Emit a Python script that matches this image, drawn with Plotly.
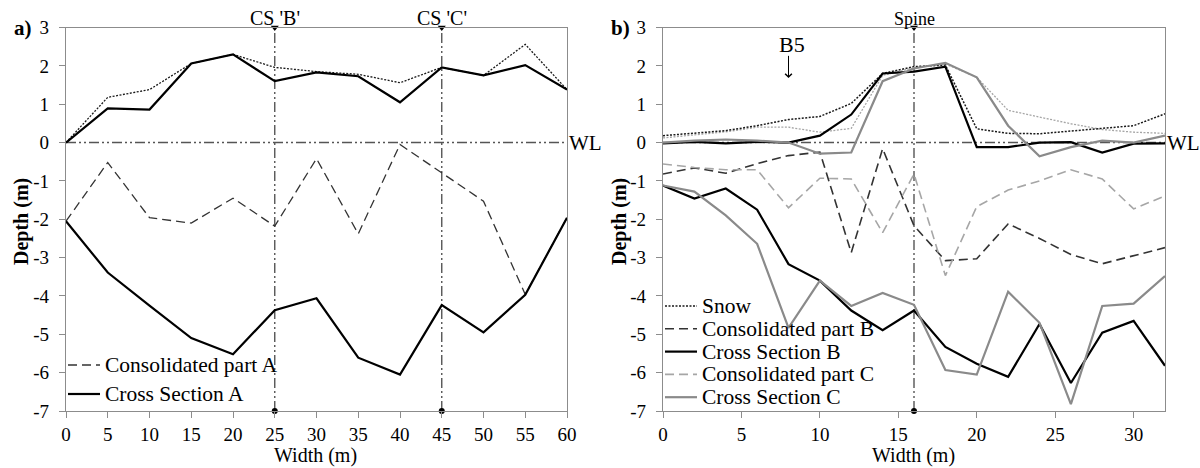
import plotly.graph_objects as go

# ---------------- data ----------------
width_a = [0, 5, 10, 15, 20, 25, 30, 35, 40, 45, 50, 55, 60]
snow_a = [0, 1.18, 1.38, 2.06, 2.3, 1.96, 1.85, 1.78, 1.56, 1.96, 1.75, 2.56, 1.38]
top_a = [0, 0.89, 0.86, 2.06, 2.3, 1.6, 1.83, 1.73, 1.05, 1.96, 1.75, 2.02, 1.38]
consol_a = [-2.05, -0.52, -1.96, -2.1, -1.45, -2.18, -0.42, -2.38, -0.05, -0.78, -1.53, -3.96, -1.96]
bottom_a = [-2.05, -3.39, -4.25, -5.1, -5.52, -4.37, -4.06, -5.61, -6.05, -4.24, -4.95, -3.97, -1.96]

width_b = [0, 2, 4, 6, 8, 10, 12, 14, 16, 18, 20, 22, 24, 26, 28, 30, 32]
snow_b = [0.18, 0.24, 0.31, 0.44, 0.6, 0.68, 1.02, 1.8, 1.98, 2.02, 0.36, 0.24, 0.23, 0.3, 0.36, 0.44, 0.75]
snow_c = [0.12, 0.2, 0.28, 0.4, 0.4, 0.27, 0.37, 1.75, 1.95, 2.05, 1.7, 0.84, 0.66, 0.49, 0.34, 0.27, 0.24]
top_b = [-0.02, 0.02, -0.02, 0.02, 0.0, 0.18, 0.73, 1.8, 1.85, 1.98, -0.12, -0.12, 0.0, 0.01, -0.26, -0.03, -0.02]
top_c = [0.0, 0.05, 0.08, 0.05, 0.0, -0.29, -0.26, 1.6, 1.93, 2.08, 1.7, 0.44, -0.36, -0.12, 0.05, 0.0, 0.18]
consol_b = [-0.82, -0.66, -0.8, -0.55, -0.34, -0.25, -2.87, -0.16, -2.17, -3.08, -3.03, -2.12, -2.5, -2.92, -3.16, -2.95, -2.74]
consol_c = [-0.56, -0.65, -0.71, -0.71, -1.7, -0.93, -0.95, -2.35, -0.82, -3.47, -1.67, -1.24, -1.0, -0.71, -0.95, -1.73, -1.39]
bottom_b = [-1.12, -1.46, -1.2, -1.75, -3.17, -3.6, -4.38, -4.89, -4.38, -5.33, -5.77, -6.11, -4.73, -6.27, -4.96, -4.65, -5.82]
bottom_c = [-1.12, -1.28, -1.9, -2.64, -4.83, -3.6, -4.26, -3.92, -4.23, -5.93, -6.05, -3.89, -4.7, -6.82, -4.26, -4.2, -3.48]

sections_a = [25, 45]
section_labels_a = ["CS 'B'", "CS 'C'"]
spine_b = [16]
spine_labels_b = ["Spine"]
legend_a_labels = ["Consolidated part A", "Cross Section A"]
legend_b_labels = ["Snow", "Consolidated part B", "Cross Section B", "Consolidated part C", "Cross Section C"]
y_ticks = [-7, -6, -5, -4, -3, -2, -1, 0, 1, 2, 3]
x_ticks_a = [0, 5, 10, 15, 20, 25, 30, 35, 40, 45, 50, 55, 60]
x_ticks_b = [0, 5, 10, 15, 20, 25, 30]
y_range = [-7, 3]
x_range_a = [0, 60]
x_range_b = [0, 32]

FONT = "Liberation Serif"
DARK = "#1a1a1a"
GREY = "#8a8a8a"
LIGHT = "#a6a6a6"
REFC = "#555555"
DOT = "2px,1.5px"
DASH = "9px,5px"
DDOT = "10px,3px,2px,3px,2px,3px"
W, H = 1200, 468


def joined(xs, up, low):
    return xs + [None] + xs, up + [None] + low


fig = go.Figure()

# ---------- panel a ----------
style_con_a = dict(color="#333333", width=1.3, dash=DASH)
style_cs_a = dict(color="#000000", width=2.2)
fig.add_trace(go.Scatter(x=width_a, y=snow_a, mode="lines", xaxis="x", yaxis="y",
                         name="Snow", line=dict(color=DARK, width=1.3, dash=DOT), showlegend=False))
fig.add_trace(go.Scatter(x=width_a, y=consol_a, mode="lines", xaxis="x", yaxis="y",
                         name=legend_a_labels[0], showlegend=False, line=style_con_a))
xa, ya = joined(width_a, top_a, bottom_a)
fig.add_trace(go.Scatter(x=xa, y=ya, mode="lines", xaxis="x", yaxis="y",
                         name=legend_a_labels[1], showlegend=False, line=style_cs_a))

# ---------- panel b ----------
style_snow_b = dict(color=DARK, width=1.5, dash=DOT)
style_con_b = dict(color="#333333", width=1.6, dash=DASH)
style_cs_b = dict(color="#000000", width=2.2)
style_con_c = dict(color=LIGHT, width=1.6, dash=DASH)
style_cs_c = dict(color=GREY, width=2.2)

fig.add_trace(go.Scatter(x=width_b, y=snow_c, mode="lines", xaxis="x2", yaxis="y2",
                         name="Snow C", line=dict(color=LIGHT, width=1.3, dash=DOT), showlegend=False))
fig.add_trace(go.Scatter(x=width_b, y=snow_b, mode="lines", xaxis="x2", yaxis="y2",
                         name=legend_b_labels[0], showlegend=False, line=style_snow_b))
fig.add_trace(go.Scatter(x=width_b, y=consol_b, mode="lines", xaxis="x2", yaxis="y2",
                         name=legend_b_labels[1], showlegend=False, line=style_con_b))
xb, yb = joined(width_b, top_b, bottom_b)
fig.add_trace(go.Scatter(x=xb, y=yb, mode="lines", xaxis="x2", yaxis="y2",
                         name=legend_b_labels[2], showlegend=False, line=style_cs_b))
fig.add_trace(go.Scatter(x=width_b, y=consol_c, mode="lines", xaxis="x2", yaxis="y2",
                         name=legend_b_labels[3], showlegend=False, line=style_con_c))
xc, yc = joined(width_b, top_c, bottom_c)
fig.add_trace(go.Scatter(x=xc, y=yc, mode="lines", xaxis="x2", yaxis="y2",
                         name=legend_b_labels[4], showlegend=False, line=style_cs_c))

# reference markers (top/bottom of vertical lines)
for xs, xax, yax in [(sections_a, "x", "y"), (spine_b, "x2", "y2")]:
    fig.add_trace(go.Scatter(x=xs, y=[y_range[1]] * len(xs), mode="markers", xaxis=xax, yaxis=yax,
                             marker=dict(symbol="triangle-down", size=7, color="#000"),
                             cliponaxis=False, showlegend=False, hoverinfo="skip"))
    fig.add_trace(go.Scatter(x=xs, y=[y_range[0]] * len(xs), mode="markers", xaxis=xax, yaxis=yax,
                             marker=dict(symbol="circle", size=6, color="#000"),
                             cliponaxis=False, showlegend=False, hoverinfo="skip"))

shapes = []
annotations = []
# water level lines
for xr, yr, xmax in [("x", "y", x_range_a[1]), ("x2", "y2", x_range_b[1])]:
    shapes.append(dict(type="line", xref=xr, yref=yr, x0=0, x1=xmax, y0=0, y1=0,
                       line=dict(color=REFC, width=1.4, dash=DDOT), layer="below"))
    annotations.append(dict(xref=xr, yref=yr, x=xmax, y=0, text="WL", showarrow=False,
                            xanchor="left", yanchor="middle", xshift=0,
                            font=dict(size=21, family=FONT, color="#000")))
# vertical section lines
for xs, labs, xr, yr, fs in [(sections_a, section_labels_a, "x", "y", 20),
                             (spine_b, spine_labels_b, "x2", "y2", 18)]:
    for xv, lab in zip(xs, labs):
        shapes.append(dict(type="line", xref=xr, yref=yr, x0=xv, x1=xv, y0=y_range[0], y1=y_range[1],
                           line=dict(color=REFC, width=1.4, dash=DDOT), layer="below"))
        annotations.append(dict(xref=xr, yref=yr, x=xv, y=y_range[1], text=lab, showarrow=False,
                                yanchor="bottom", yshift=-3, font=dict(size=fs, family=FONT, color="#000")))

# B5 marker
annotations.append(dict(xref="x2", yref="y2", x=8.2, y=2.55, text="B5", showarrow=False,
                        yanchor="middle", font=dict(size=22, family=FONT, color="#000")))
annotations.append(dict(xref="x2", yref="y2", x=8, y=1.68, axref="x2", ayref="y2", ax=8, ay=2.3,
                        text="", showarrow=True, arrowhead=4, arrowsize=1.3, arrowwidth=1,
                        arrowcolor="#000"))


def add_legend(labels, styles, x0px, ytop, step):
    for i, (lab, st) in enumerate(zip(labels, styles)):
        yp = 1 - (ytop + i * step) / H
        shapes.append(dict(type="line", xref="paper", yref="paper", x0=x0px / W, x1=(x0px + 32) / W,
                           y0=yp, y1=yp,
                           line=dict(color=st["color"], width=st["width"], dash=st.get("dash", "solid"))))
        annotations.append(dict(xref="paper", yref="paper", x=(x0px + 35) / W, y=yp, text=lab,
                                showarrow=False, xanchor="left", yanchor="middle",
                                font=dict(size=21.5, family=FONT, color="#000")))


add_legend(legend_a_labels, [style_con_a, style_cs_a], 68, 365, 29)
add_legend(legend_b_labels, [style_snow_b, style_con_b, style_cs_b, style_con_c, style_cs_c], 665, 306, 22.8)

# panel labels and axis titles
annotations += [
    dict(xref="paper", yref="paper", x=12 / W, y=1 - 28 / H, text="<b>a)</b>", showarrow=False,
         xanchor="left", yanchor="middle", font=dict(size=21, family=FONT, color="#000")),
    dict(xref="paper", yref="paper", x=609 / W, y=1 - 28 / H, text="<b>b)</b>", showarrow=False,
         xanchor="left", yanchor="middle", font=dict(size=21, family=FONT, color="#000")),
    dict(xref="paper", yref="paper", x=21 / W, y=1 - 222 / H, text="<b>Depth (m)</b>",
         showarrow=False, textangle=-90, xanchor="center", yanchor="middle",
         font=dict(size=20, family=FONT, color="#000")),
    dict(xref="paper", yref="paper", x=619 / W, y=1 - 222 / H, text="<b>Depth (m)</b>",
         showarrow=False, textangle=-90, xanchor="center", yanchor="middle",
         font=dict(size=20, family=FONT, color="#000")),
    dict(xref="paper", yref="paper", x=316 / W, y=1 - 455 / H, text="Width (m)",
         showarrow=False, xanchor="center", yanchor="middle", font=dict(size=20, family=FONT, color="#000")),
    dict(xref="paper", yref="paper", x=913 / W, y=1 - 455 / H, text="Width (m)",
         showarrow=False, xanchor="center", yanchor="middle", font=dict(size=20, family=FONT, color="#000")),
]

ydom = [1 - 411 / H, 1 - 27.5 / H]
axis_common = dict(showline=True, mirror=True, linecolor="#8c8c8c", linewidth=1.2, showgrid=False,
                   zeroline=False, ticks="outside", ticklen=6, tickcolor="#8c8c8c", automargin=False,
                   tickfont=dict(size=19, family=FONT, color="#000"))

fig.update_layout(
    width=W, height=H, margin=dict(l=0, r=0, t=0, b=0, autoexpand=False),
    paper_bgcolor="white", plot_bgcolor="white", showlegend=False,
    font=dict(family=FONT, color="#000"),
    xaxis=dict(domain=[66 / W, 567 / W], range=x_range_a, tickvals=x_ticks_a,
               ticktext=[str(v) for v in x_ticks_a], anchor="y", **axis_common),
    yaxis=dict(domain=ydom, range=y_range, tickvals=y_ticks, ticktext=[str(v) for v in y_ticks],
               anchor="x", ticklabelstandoff=6, **axis_common),
    xaxis2=dict(domain=[663 / W, 1165 / W], range=x_range_b, tickvals=x_ticks_b,
                ticktext=[str(v) for v in x_ticks_b], anchor="y2", **axis_common),
    yaxis2=dict(domain=ydom, range=y_range, tickvals=y_ticks, ticktext=[str(v) for v in y_ticks],
                anchor="x2", ticklabelstandoff=6, **axis_common),
    shapes=shapes, annotations=annotations,
)

fig.write_html("out.html")
